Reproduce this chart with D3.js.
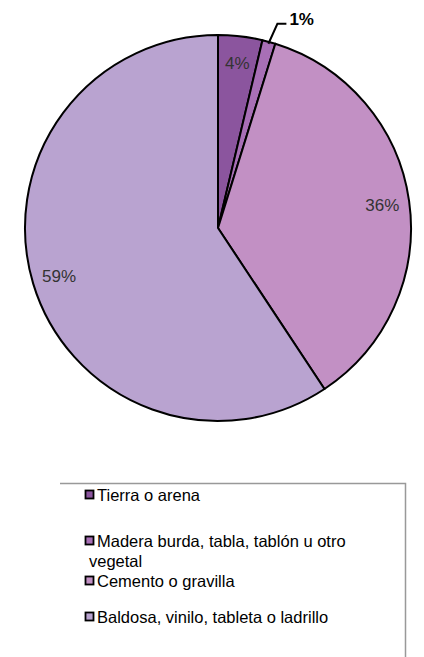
<html>
<head>
<script src="https://d3js.org/d3.v7.min.js"></script>
<style>
  body { margin: 0; background: #fff; }
  text { font-family: "Liberation Sans", Arial, sans-serif; }
</style>
</head>
<body>
<svg width="424" height="657"></svg>
<script>
  // categories and values, clockwise from 12 o'clock
  var categories = ["Tierra o arena", "Madera burda, tabla, tablón u otro vegetal", "Cemento o gravilla", "Baldosa, vinilo, tableta o ladrillo"];
  var values = [3.7, 1.1, 35.9, 59.3];
  var labels = ["4%", "1%", "36%", "59%"];
  var colors = ["#8b559e", "#a86fb6", "#c290c4", "#b9a3d0"];
  var legendLines = [["Tierra o arena"], ["Madera burda, tabla, tablón u otro", "vegetal"], ["Cemento o gravilla"], ["Baldosa, vinilo, tableta o ladrillo"]];

  var svg = d3.select("svg");
  var cx = 218, cy = 228, r = 193;

  var pie = d3.pie().sort(null).value(function(d){ return d; });
  var arcs = pie(values);
  var arc = d3.arc().innerRadius(0).outerRadius(r);
  var labelArc = d3.arc().innerRadius(166).outerRadius(166);

  var g = svg.append("g").attr("transform", "translate(" + cx + "," + cy + ")");
  g.selectAll("path")
    .data(arcs)
    .enter()
    .append("path")
    .attr("d", arc)
    .attr("fill", function(d, i){ return colors[i]; })
    .attr("stroke", "#000")
    .attr("stroke-width", 2)
    .attr("stroke-linejoin", "round");

  // inside labels (skip the 1% slice, labelled outside)
  g.selectAll("text.lbl")
    .data(arcs.filter(function(d, i){ return i != 1; }))
    .enter()
    .append("text")
    .attr("class", "lbl")
    .attr("transform", function(d){ return "translate(" + labelArc.centroid(d) + ")"; })
    .attr("text-anchor", "middle")
    .attr("dy", "0.35em")
    .attr("font-size", 17)
    .attr("fill", "#333")
    .text(function(d){ return labels[d.index]; });

  // callout for the 1% slice
  var small = arcs[1];
  var mid = (small.startAngle + small.endAngle) / 2;
  var p0 = [Math.sin(mid) * (r - 2), -Math.cos(mid) * (r - 2)];
  var p1 = [p0[0] + 9, p0[1] - 20];
  var p2 = [p1[0] + 9, p1[1]];
  g.append("polyline")
    .attr("points", [p0, p1, p2].map(function(p){ return p.join(","); }).join(" "))
    .attr("fill", "none")
    .attr("stroke", "#000")
    .attr("stroke-width", 2);
  g.append("text")
    .attr("x", p2[0] + 3)
    .attr("y", p2[1])
    .attr("dy", "0.05em")
    .attr("font-size", 17)
    .attr("font-weight", "bold")
    .attr("fill", "#000")
    .text(labels[1]);

  // legend
  var lg = svg.append("g");
  lg.append("path")
    .attr("d", "M60,483.5H405.5V657")
    .attr("fill", "none")
    .attr("stroke", "#999")
    .attr("stroke-width", 1.5);

  var rowY = [495, 541, 581, 617];
  legendLines.forEach(function(lines, i){
    lg.append("rect")
      .attr("x", 85.5)
      .attr("y", rowY[i] - 4.5)
      .attr("width", 8)
      .attr("height", 8)
      .attr("fill", colors[i])
      .attr("stroke", "#000")
      .attr("stroke-width", 1.8);
    lines.forEach(function(t, j){
      lg.append("text")
        .attr("x", j == 0 ? 97 : 89)
        .attr("y", rowY[i] + j * 20)
        .attr("dy", "0.35em")
        .attr("font-size", 16.5)
        .attr("fill", "#000")
        .text(t);
    });
  });
</script>
</body>
</html>
